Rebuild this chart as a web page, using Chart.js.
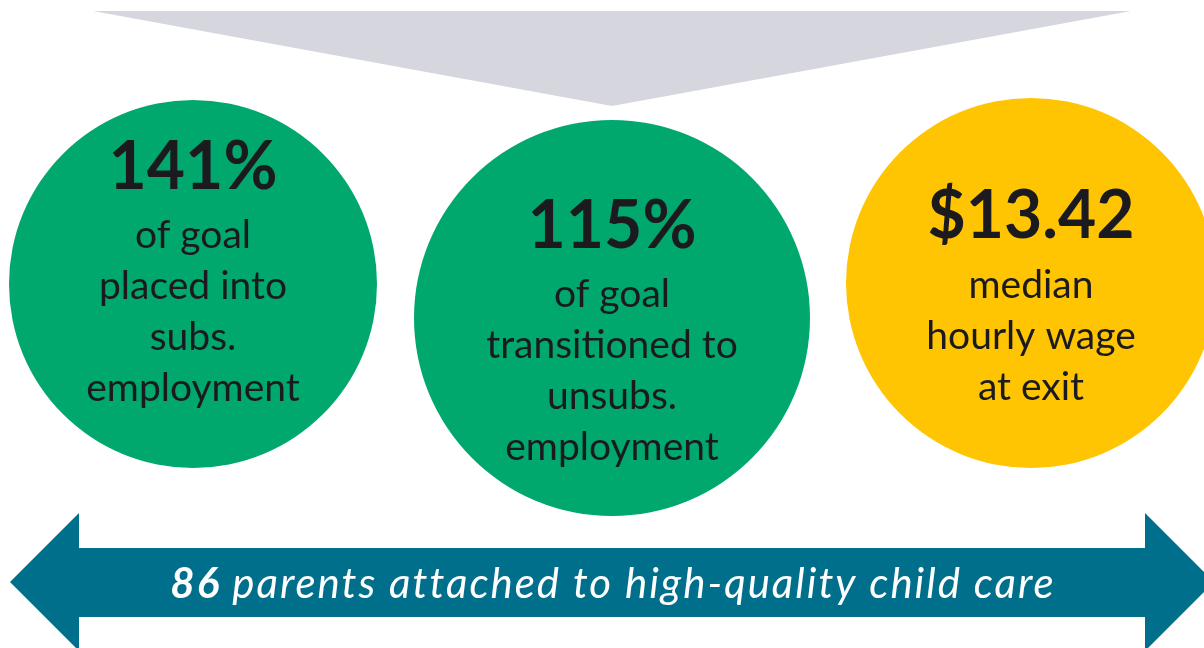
<!DOCTYPE html>
<html>
<head>
<meta charset="utf-8">
<script src="https://cdn.jsdelivr.net/npm/chart.js@4.4.1/dist/chart.umd.min.js"></script>
<style>
    html, body { margin: 0; padding: 0; background: #ffffff; }
    #board { display: block; }
</style>
</head>
<body>
<canvas id="board" width="1204" height="648"></canvas>
<script>
// Outcome figures shown in the three circles
const metricValues = ['141%', '115%', '$13.42'];
const metricCaptions = [
    ['of goal', 'placed into', 'subs.', 'employment'],
    ['of goal', 'transitioned to', 'unsubs.', 'employment'],
    ['median', 'hourly wage', 'at exit']
];
// Banner along the bottom arrow
const parentsCount = 86;
const parentsCaption = 'parents attached to high-quality child care';

// Layout (in canvas units, mapped through the chart scales)
const circleX = [193, 612, 1031];
const circleY = [284, 318, 283];
const circleR = [184, 198, 185];
const valueBaseline = [189, 248, 238];
const captionBaseline = [248, 307, 298];
const captionStep = 51;

const circleColors = ['#00a86e', '#00a86e', '#ffc402'];
const textColor = '#1b1b1f';
const funnelColor = '#d5d6de';
const arrowColor = '#006f8c';

// gray funnel at the top and the double arrow at the bottom
const funnelPoints = [{ x: 93, y: 11 }, { x: 612, y: 106 }, { x: 1131, y: 11 }];
const arrowMid = 582;
const arrowTop = [
    { x: 10, y: 582 }, { x: 79, y: 513 }, { x: 79, y: 548 },
    { x: 1145, y: 548 }, { x: 1145, y: 513 }, { x: 1214, y: 582 }
];
const arrowBottom = [
    { x: 10, y: 582 }, { x: 79, y: 651 }, { x: 79, y: 617 },
    { x: 1145, y: 617 }, { x: 1145, y: 651 }, { x: 1214, y: 582 }
];

function drawSpaced(ctx, text, cx, cy, spacing) {
    ctx.letterSpacing = spacing + 'px';
    const w = ctx.measureText(text).width - spacing;
    ctx.textAlign = 'left';
    ctx.fillText(text, cx - w / 2, cy);
    ctx.letterSpacing = '0px';
}

const labelsPlugin = {
    id: 'infoLabels',
    afterDatasetsDraw(chart) {
        const ctx = chart.ctx;
        const xs = chart.scales.x;
        const ys = chart.scales.y;
        ctx.save();
        ctx.textBaseline = 'alphabetic';
        ctx.fillStyle = textColor;

        metricValues.forEach((val, i) => {
            const cx = xs.getPixelForValue(circleX[i]);
            ctx.font = 'bold 66px Lato';
            drawSpaced(ctx, val, cx, ys.getPixelForValue(valueBaseline[i]), 0);
            ctx.font = '39px Lato';
            metricCaptions[i].forEach((line, j) => {
                const by = ys.getPixelForValue(captionBaseline[i] + j * captionStep);
                drawSpaced(ctx, line, cx, by, 0);
            });
        });

        // banner text: bold italic count + italic caption, centered on the arrow
        const bx = xs.getPixelForValue(612);
        const by = ys.getPixelForValue(598);
        const spacing = 2;
        ctx.fillStyle = '#ffffff';
        ctx.letterSpacing = spacing + 'px';
        ctx.font = 'italic bold 42px Lato';
        const numText = String(parentsCount) + ' ';
        const w1 = ctx.measureText(numText).width;
        ctx.font = 'italic 42px Lato';
        const w2 = ctx.measureText(parentsCaption).width - spacing;
        const left = bx - (w1 + w2) / 2;
        ctx.textAlign = 'left';
        ctx.font = 'italic bold 42px Lato';
        ctx.fillText(numText, left, by);
        ctx.font = 'italic 42px Lato';
        ctx.fillText(parentsCaption, left + w1, by);
        ctx.letterSpacing = '0px';
        ctx.restore();
    }
};

const polyStyle = (data, color, base) => ({
    type: 'line',
    data: data,
    showLine: true,
    borderWidth: 0,
    borderColor: color,
    backgroundColor: color,
    pointRadius: 0,
    pointHoverRadius: 0,
    tension: 0,
    fill: { value: base }
});

new Chart(document.getElementById('board'), {
    type: 'scatter',
    data: {
        datasets: [
            polyStyle(funnelPoints, funnelColor, 11),
            polyStyle(arrowTop, arrowColor, arrowMid),
            polyStyle(arrowBottom, arrowColor, arrowMid),
            {
                type: 'bubble',
                data: metricValues.map((v, i) => ({ x: circleX[i], y: circleY[i], r: circleR[i] })),
                backgroundColor: circleColors,
                borderWidth: 0,
                hoverRadius: 0,
                hoverBorderWidth: 0
            }
        ]
    },
    options: {
        responsive: false,
        animation: false,
        events: [],
        layout: { padding: 0, autoPadding: false },
        scales: {
            x: { type: 'linear', min: 0, max: 1204, display: false },
            y: { type: 'linear', min: 0, max: 648, reverse: true, display: false }
        },
        plugins: {
            legend: { display: false },
            tooltip: { enabled: false }
        }
    },
    plugins: [labelsPlugin]
});
</script>
</body>
</html>
